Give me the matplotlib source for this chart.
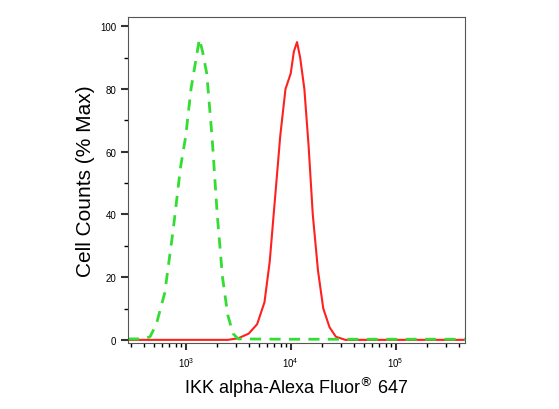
import numpy as np
from matplotlib import pyplot as plt
from matplotlib.ticker import LogLocator, NullFormatter

plt.rcParams['font.family'] = ['Liberation Sans', 'DejaVu Sans']

# log10 of intensity, % max
green_x = [2.45, 2.6, 2.66, 2.72, 2.8, 2.88, 2.95, 3.0, 3.05, 3.1, 3.13, 3.16, 3.2, 3.25, 3.3, 3.35, 3.4, 3.45, 3.5, 4.0, 5.0, 5.66]
green_y = [0.3, 0.3, 1, 5, 15, 35, 55, 65, 80, 90, 96, 92, 85, 65, 40, 20, 8, 2, 0.3, 0.2, 0.2, 0.2]
red_x = [2.45, 3.4, 3.5, 3.6, 3.68, 3.75, 3.8, 3.85, 3.9, 3.95, 4.0, 4.03, 4.06, 4.09, 4.13, 4.17, 4.21, 4.26, 4.31, 4.37, 4.43, 4.52, 5.66]
red_y = [0, 0, 0.5, 2, 5, 12, 25, 45, 65, 80, 85, 92, 95, 90, 80, 62, 40, 22, 10, 4, 1, 0, 0]

fig = plt.figure(figsize=(5.59, 4.10), dpi=100)
ax = fig.add_axes([128/559, 1-344/410, 337/559, 326/410])
ax.plot(10**np.array(red_x), red_y, color='#ff2020', lw=1.5)
ax.plot(10**np.array(green_x), green_y, color='#33dd33', lw=2, ls=(0, (4, 3)))
ax.set_xscale('log')
ax.set_xlim(10**2.45, 10**5.66)
ax.set_ylim(-1, 103)
ax.set_yticks([0, 20, 40, 60, 80, 100])
ax.set_yticks(np.arange(0, 101, 10), minor=True)
ax.xaxis.set_major_locator(LogLocator(base=10, numticks=10))
ax.xaxis.set_minor_locator(LogLocator(base=10, subs=np.arange(2, 10), numticks=100))
ax.xaxis.set_minor_formatter(NullFormatter())
ax.tick_params(labelsize=7, direction='out', color='#333333')
ax.tick_params(which='major', length=5, width=1.5)
ax.tick_params(which='minor', length=3, width=1)
for s in ax.spines.values():
    s.set_color('#555555')
    s.set_linewidth(0.8)
ax.set_ylabel('Cell Counts (% Max)', fontsize=15)
ax.set_xlabel('IKK alpha-Alexa Fluor$^{\u00ae}$ 647', fontsize=13)
fig.savefig('out.png', dpi=100)
